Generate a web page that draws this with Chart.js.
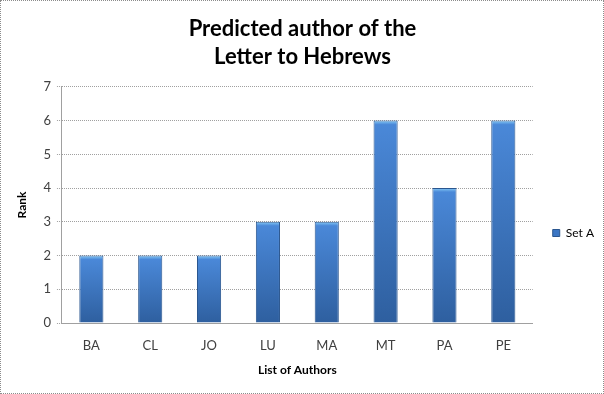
<!DOCTYPE html>
<html>
<head>
<meta charset="utf-8">
<script src="https://cdn.jsdelivr.net/npm/chart.js@4"></script>
<style>
  html, body { margin: 0; padding: 0; background: #fff; }
  #wrap { width: 604px; height: 394px; box-sizing: border-box; border: 1px dotted #8c8c8c; }
  canvas { display: block; }
</style>
</head>
<body>
<div id="wrap"><canvas id="chart" width="602" height="392"></canvas></div>
<script>
// Chart data
const authors = ['BA', 'CL', 'JO', 'LU', 'MA', 'MT', 'PA', 'PE'];
const setA = [2, 2, 2, 3, 3, 6, 4, 6];
const rankTicks = [0, 1, 2, 3, 4, 5, 6, 7];

const FONT = 'Lato, "Liberation Sans", sans-serif';
const textColor = '#404040';
const gridColor = '#a0a0a0';

// Vertical gradient per bar, light cap on top
function barFill(ctx) {
    const chart = ctx.chart;
    if (!chart.chartArea || ctx.type !== 'data') return '#3b76c4';
    const y = chart.scales.y;
    const top = y.getPixelForValue(ctx.raw);
    const base = y.getPixelForValue(0);
    const g = chart.ctx.createLinearGradient(0, top, 0, base);
    const cap = Math.min(0.5, 4 / Math.max(1, base - top));
    g.addColorStop(0, '#86cbf6');
    g.addColorStop(cap, '#4a88d8');
    g.addColorStop(1, '#2e5f9f');
    return g;
}

// Nudge the legend to where Excel puts it (lower and further right)
const legendShift = {
    id: 'legendShift',
    afterLayout(chart) {
        const lg = chart.legend;
        if (!lg) return;
        const dx = 10, dy = 42;
        lg.left += dx; lg.right += dx;
        lg.top += dy; lg.bottom += dy;
    }
};

new Chart(document.getElementById('chart').getContext('2d'), {
    type: 'bar',
    data: {
        labels: authors,
        datasets: [{
            label: 'Set A',
            data: setA,
            backgroundColor: barFill,
            borderColor: '#2a568f',
            borderWidth: 1,
            barPercentage: 0.41,
            categoryPercentage: 1
        }]
    },
    options: {
        responsive: false,
        animation: false,
        layout: { padding: { left: 10, right: 9, top: 0, bottom: 12 } },
        plugins: {
            title: {
                display: true,
                text: ['Predicted author of the', 'Letter to Hebrews'],
                color: '#000',
                font: { family: FONT, size: 22, weight: 'bold', lineHeight: 1.27 },
                padding: { top: 14, bottom: 16 }
            },
            legend: {
                position: 'right',
                labels: {
                    color: textColor,
                    font: { family: FONT, size: 12 },
                    boxWidth: 7,
                    boxHeight: 7,
                    padding: 10,
                    generateLabels: (chart) => [{
                        text: 'Set A',
                        fillStyle: '#3b76c4',
                        strokeStyle: '#2a568f',
                        lineWidth: 1,
                        datasetIndex: 0
                    }]
                }
            },
            tooltip: { enabled: false }
        },
        scales: {
            x: {
                grid: { display: false },
                border: { display: true, color: gridColor, dash: [1, 1] },
                ticks: { color: textColor, font: { family: FONT, size: 13 }, padding: 7 },
                title: {
                    display: true,
                    text: 'List of Authors',
                    color: '#000',
                    font: { family: FONT, size: 12, weight: 'bold' },
                    padding: { top: 2 }
                }
            },
            y: {
                min: 0,
                max: 7,
                afterBuildTicks: (axis) => { axis.ticks = rankTicks.map(v => ({ value: v })); },
                grid: {
                    color: gridColor,
                    borderDash: [1, 1],
                    tickLength: 5,
                    tickBorderDash: [1, 1]
                },
                border: { display: true, color: gridColor, dash: [1, 1] },
                ticks: { color: textColor, font: { family: FONT, size: 13 }, padding: 6 },
                title: {
                    display: true,
                    text: 'Rank',
                    color: '#000',
                    font: { family: FONT, size: 12, weight: 'bold' },
                    padding: { bottom: 8 }
                }
            }
        }
    },
    plugins: [legendShift]
});
</script>
</body>
</html>
